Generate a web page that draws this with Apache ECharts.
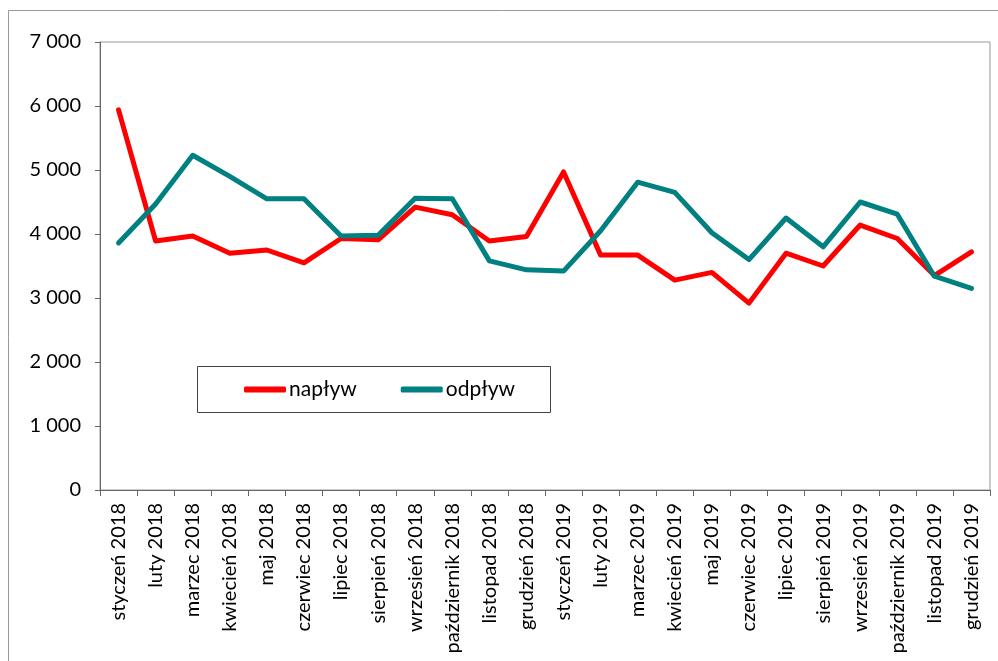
<!DOCTYPE html>
<html>
<head>
<meta charset="utf-8">
<script src="https://cdn.jsdelivr.net/npm/echarts@6/dist/echarts.min.js"></script>
<style>html,body{margin:0;padding:0;background:#fff}#c{width:998px;height:661px}</style>
</head>
<body>
<div id="c"></div>
<script>
var categories = ['styczeń 2018','luty 2018','marzec 2018','kwiecień 2018','maj 2018','czerwiec 2018','lipiec 2018','sierpień 2018','wrzesień 2018','październik 2018','listopad 2018','grudzień 2018',
  'styczeń 2019','luty 2019','marzec 2019','kwiecień 2019','maj 2019','czerwiec 2019','lipiec 2019','sierpień 2019','wrzesień 2019','październik 2019','listopad 2019','grudzień 2019'];
var naplyw = [5940,3890,3970,3700,3750,3550,3930,3910,4420,4300,3890,3960,
  4970,3670,3670,3280,3400,2920,3700,3500,4140,3930,3350,3720];
var odplyw = [3860,4470,5230,4900,4550,4550,3970,3980,4560,4550,3580,3440,
  3420,4050,4810,4650,4020,3600,4250,3800,4500,4310,3340,3150];
var seriesNames = ['napływ','odpływ'];

var chart = echarts.init(document.getElementById('c'));
var font = 'Lato, "Liberation Sans", sans-serif';
chart.setOption({
  animation: false,
  textStyle: {fontFamily: font},
  graphic: [
    {type:'rect', shape:{x:8.5,y:10.5,width:1000,height:700}, style:{fill:'none',stroke:'#999',lineWidth:1}, silent:true},
    {type:'rect', shape:{x:197.5,y:366.5,width:353,height:46}, style:{fill:'#fff',stroke:'#444',lineWidth:1}, silent:true, z:10}
  ],
  grid: {left:100, right:8, top:42, bottom:171, show:true, borderColor:'#999', borderWidth:1, backgroundColor:'#fff',
    containLabel:false, outerBoundsMode:'none'},
  legend: {
    data: seriesNames,
    left: 244, top: 379, padding: 0, itemGap: 44,
    itemWidth: 42, itemHeight: 6, icon: 'roundRect',
    textStyle: {fontSize: 21, color:'#000', fontFamily: font, padding:[0,0,0,-2]},
    z: 20
  },
  xAxis: {
    type: 'category', data: categories, boundaryGap: true,
    axisLine: {lineStyle:{color:'#666', width:1}},
    axisTick: {show:true, interval:0, length:6, lineStyle:{color:'#666'}},
    axisLabel: {interval:0, rotate:90, fontSize:20, color:'#000', margin:13, fontFamily: font}
  },
  yAxis: {
    type: 'value', min: 0, max: 7000, interval: 1000,
    axisLine: {show:true, lineStyle:{color:'#666', width:1}},
    axisTick: {show:true, length:5, lineStyle:{color:'#666'}},
    splitLine: {show:false},
    axisLabel: {fontSize:20, color:'#000', margin:19, fontFamily: font,
      formatter: function(v){ return String(v).replace(/\B(?=(\d{3})+(?!\d))/g, ' '); }}
  },
  series: [
    {name: seriesNames[0], type:'line', data: naplyw, symbol:'none', smooth:false,
     itemStyle:{color:'#ff0000'}, lineStyle:{color:'#ff0000', width:5, cap:'round', join:'round'}, z:2},
    {name: seriesNames[1], type:'line', data: odplyw, symbol:'none', smooth:false,
     itemStyle:{color:'#008080'}, lineStyle:{color:'#008080', width:5, cap:'round', join:'round'}, z:3}
  ]
});
</script>
</body>
</html>
